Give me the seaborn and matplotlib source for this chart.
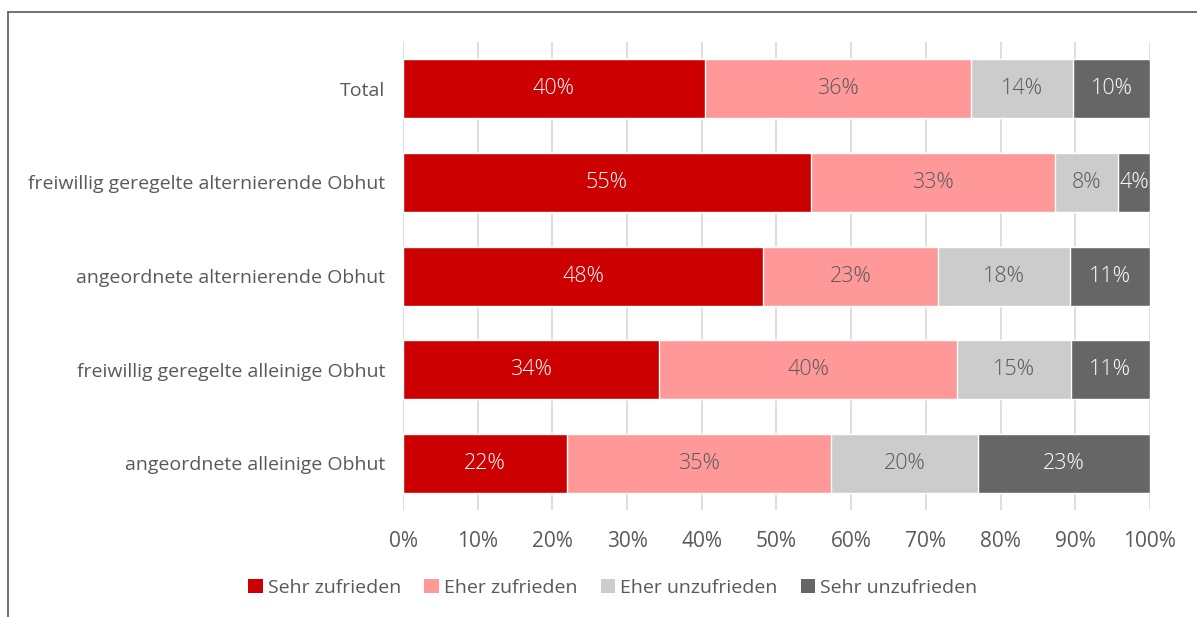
import numpy as np
import pandas as pd
import matplotlib
matplotlib.use("Agg")
import matplotlib.pyplot as plt
from matplotlib.lines import Line2D
from matplotlib.patches import Patch
import seaborn as sns

categories = [
    "Total",
    "freiwillig geregelte alternierende Obhut",
    "angeordnete alternierende Obhut",
    "freiwillig geregelte alleinige Obhut",
    "angeordnete alleinige Obhut",
]
series = ["Sehr zufrieden", "Eher zufrieden", "Eher unzufrieden", "Sehr unzufrieden"]
sehr_zufrieden = [40.4, 54.6, 48.2, 34.3, 22.0]
eher_zufrieden = [35.6, 32.7, 23.4, 39.9, 35.3]
eher_unzufrieden = [13.7, 8.4, 17.7, 15.2, 19.7]
sehr_unzufrieden = [10.3, 4.3, 10.7, 10.6, 23.0]

colors = ["#CC0000", "#FF9999", "#CCCCCC", "#666666"]
label_colors = ["white", "#595959", "#595959", "white"]
text_color = "#595959"

sns.set_style("white")
plt.rcParams["font.family"] = ["Open Sans", "DejaVu Sans"]

values = np.array([sehr_zufrieden, eher_zufrieden, eher_unzufrieden, sehr_unzufrieden])
cum = values.cumsum(axis=0)

fig = plt.figure(figsize=(11.97, 6.17), dpi=100)
ax = fig.add_axes([0.3367, 0.173, 0.6240, 0.759])

# stacked bars: draw cumulative totals from the largest down
for i in range(len(series) - 1, -1, -1):
    df = pd.DataFrame({"cat": categories, "val": cum[i]})
    sns.barplot(data=df, x="val", y="cat", orient="h", color=colors[i],
                saturation=1, width=0.63, ax=ax, zorder=3)

for i in range(len(series)):
    for j in range(len(categories)):
        start = cum[i][j] - values[i][j]
        ax.text(start + values[i][j] / 2, j, f"{values[i][j]:.0f}%",
                ha="center", va="center", fontsize=15.5, color=label_colors[i],
                fontweight="light", zorder=4)

ax.set_xlim(0, 100)
ax.set_ylim(4.5, -0.5)
ax.set_xticks(np.arange(0, 101, 10))
ax.set_xticklabels([f"{t}%" for t in range(0, 101, 10)])
ax.xaxis.grid(True, color="#D9D9D9", linewidth=1.2, zorder=0)
ax.set_axisbelow(True)
ax.set_xlabel("")
ax.set_ylabel("")
for s in ax.spines.values():
    s.set_visible(False)
ax.tick_params(axis="x", length=0, pad=15, labelsize=15, labelcolor=text_color)
ax.tick_params(axis="y", length=0, pad=13, labelsize=14, labelcolor=text_color)

handles = [Patch(facecolor=c, edgecolor="none") for c in colors]
fig.legend(handles, series, loc="center", bbox_to_anchor=(0.512, 0.047), ncol=4,
           frameon=False, fontsize=14, labelcolor=text_color, handlelength=0.75,
           handleheight=0.75, handletextpad=0.25, columnspacing=1.2)

# outer frame (left and top edge visible)
fig.add_artist(Line2D([8 / 1197, 8 / 1197], [0, 1 - 12 / 617], color="#595959", lw=1.2))
fig.add_artist(Line2D([8 / 1197, 1], [1 - 12 / 617, 1 - 12 / 617], color="#595959", lw=1.2))

fig.savefig("out.png", dpi=100)
